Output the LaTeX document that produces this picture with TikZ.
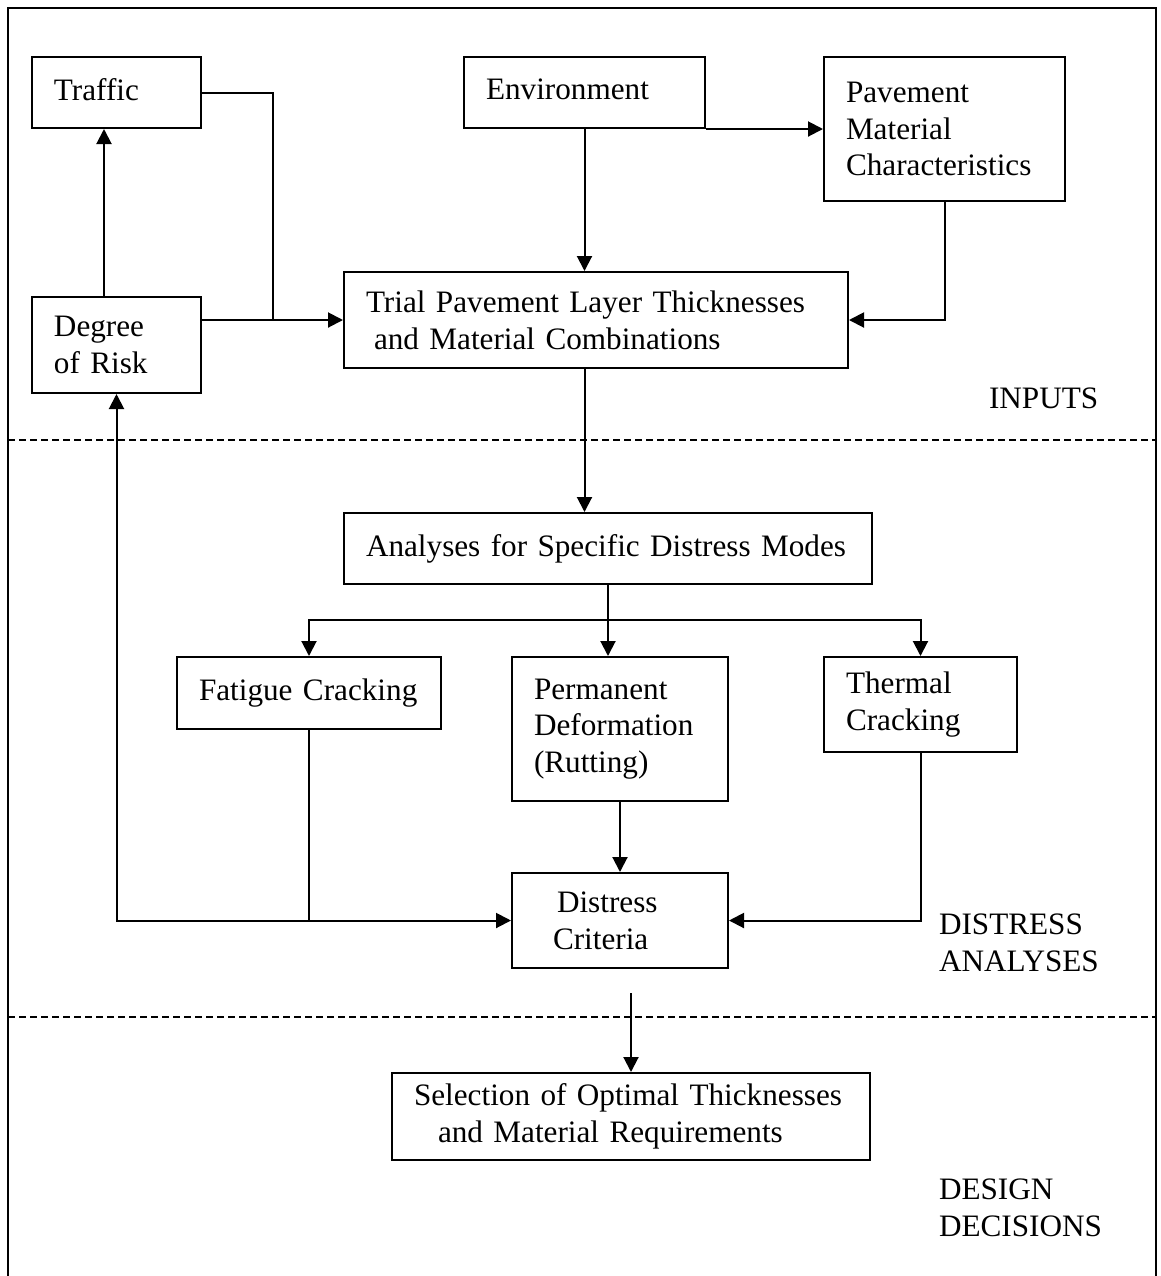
\documentclass[tikz,border=0pt]{standalone}
\usepackage{fontspec}
\setmainfont{Liberation Serif}
\usetikzlibrary{positioning, arrows.meta}

\begin{document}
\begin{tikzpicture}[x=0.5pt, y=-0.5pt,
		box/.style = {draw, line width=1pt, align=left, inner xsep=11pt, inner ysep=0pt,
			font=\fontsize{15.6}{18.4}\selectfont},
		lbl/.style = {anchor=west, inner sep=0pt, align=left, font=\fontsize{15.6}{18.4}\selectfont},
		divider/.style = {line width=0.6pt, dash pattern=on 3.5pt off 2pt},
		>={Triangle[length=7.5pt, width=7.5pt]}, line width=1pt]
		\useasboundingbox (0,0) rectangle (1161,1276);
		\draw (8,1276) |- (1156,8) -- (1156,1276);

		% inputs
		\node[box, text width=62.5pt, minimum height=35.5pt] (traffic) at (116.5,92.5) {Traffic\vphantom{g}};
		\node[box, text width=98.5pt, minimum height=35.5pt] (env) at (584.5,92.5) {Environment\vphantom{g}};
		\node[box, text width=98.5pt, minimum height=72pt] (pmc) at (944.5,129) {Pavement\\Material\\Characteristics};
		\node[box, text width=62.5pt, minimum height=48pt] (risk) at (116.5,345) {Degree\\of Risk};
		\node[box, text width=230pt, minimum height=48pt] (trial) at (596,320) {\mbox{Trial Pavement Layer Thicknesses}\\\hspace*{4pt}and Material Combinations};
		\node[lbl] (inputs) at (988,398) {INPUTS};

		% distress analyses
		\node[box, text width=242pt, minimum height=35.5pt] (analyses) at (608,548.5) {\mbox{Analyses for Specific Distress Modes}};
		\node[box, text width=110pt, minimum height=36pt] (fatigue) at (309,693) {\mbox{Fatigue Cracking}};
		\node[box, text width=86pt, minimum height=72pt] (perm) at (620,729) {Permanent\\Deformation\\(Rutting)};
		\node[box, text width=74.5pt, minimum height=47.5pt] (thermal) at (920.5,704.5) {Thermal\\Cracking};
		\node[box, text width=86pt, minimum height=47.5pt] (criteria) at (620,920.5) {\hspace*{11.5pt}Distress\\\hspace*{9.5pt}Criteria};
		\node[lbl] (distress) at (938,943) {DISTRESS\\ANALYSES};

		% design decisions
		\node[box, text width=217pt, minimum height=43.5pt] (select) at (631,1116.5) {\mbox{Selection of Optimal Thicknesses}\\\hspace*{12pt}and Material Requirements};
		\node[lbl] (design) at (938,1208) {DESIGN\\DECISIONS};

		\draw[divider] (8,440) -- (1156,440);
		\draw[divider] (8,1017) -- (1156,1017);

		\coordinate (tjoin) at (273,320);
		\coordinate (split) at (608,620);
		\coordinate (cstart) at (631,993);

		\draw[->] ([xshift=-6.25pt]risk.north) -- ([xshift=-6.25pt]traffic.south);
		\draw (traffic.east) -| (tjoin);
		\draw[->] (risk.east |- trial.west) -- (trial.west);
		\draw[->] (env.south) -- (env.south |- trial.north);
		\draw[->] (env.south east) -- (env.south east -| pmc.west);
		\draw[->] (pmc.south) |- (trial.east);
		\draw[->] (trial.south -| env.south) -- (env.south |- analyses.north);
		\draw (analyses.south) -- (split);
		\draw[->] (split) -| (fatigue.north);
		\draw[->] (split) -- (split |- perm.north);
		\draw[->] (split) -| (thermal.north);
		\draw[->] (perm) -- (criteria);
		\draw[->] (fatigue.south) |- (criteria.west);
		\draw[->] (fatigue.south |- criteria.west) -| (risk.south);
		\draw[->] (thermal.south) |- (criteria.east);
		\draw[->] (cstart) -- (select.north);
	\end{tikzpicture}
\end{document}
